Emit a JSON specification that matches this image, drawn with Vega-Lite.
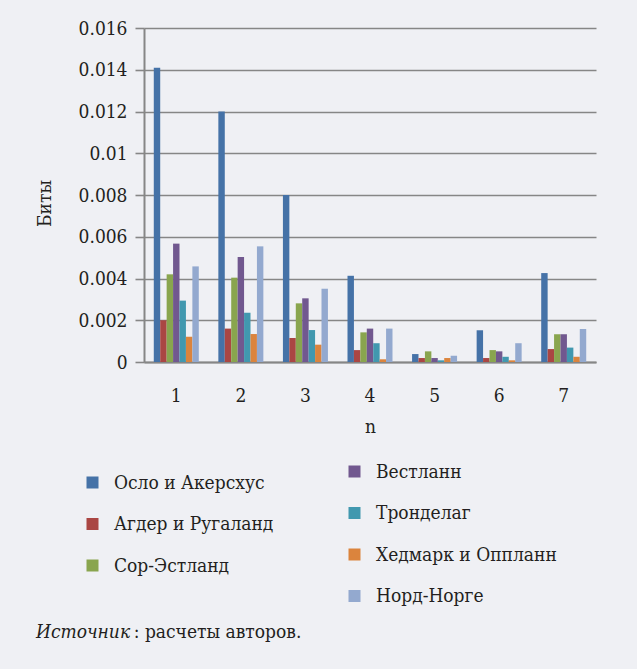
{
  "$schema": "https://vega.github.io/schema/vega-lite/v6.json",
  "width": 452,
  "height": 334,
  "autosize": {"type": "none"},
  "padding": {"left": 144, "top": 28, "right": 41, "bottom": 307},
  "background": "#eff0f4",
  "config": {
    "font": "DejaVu Serif Condensed",
    "view": {"stroke": null},
    "axis": {
      "labelFont": "DejaVu Serif Condensed",
      "titleFont": "DejaVu Serif Condensed",
      "labelFontSize": 19,
      "titleFontSize": 19,
      "titleFontWeight": "normal",
      "labelColor": "#231f20",
      "titleColor": "#231f20",
      "domainColor": "#868686",
      "domainWidth": 2,
      "gridColor": "#868686",
      "gridWidth": 1.6,
      "gridOpacity": 1,
      "tickColor": "#868686",
      "tickWidth": 1.6
    },
    "legend": {
      "labelFont": "DejaVu Serif Condensed",
      "labelFontSize": 19,
      "labelColor": "#231f20",
      "labelLimit": 400,
      "symbolType": "square",
      "symbolSize": 144,
      "symbolStrokeWidth": 0,
      "labelOffset": 12,
      "rowPadding": 21.5,
      "padding": 0,
      "orient": "none",
      "title": null
    }
  },
  "title": {
    "text": "Источник",
    "subtitle": "\u200b\u00a0\u00a0\u00a0\u00a0\u00a0\u00a0\u00a0\u00a0\u00a0\u00a0\u00a0\u00a0\u00a0\u00a0\u00a0\u00a0\u00a0\u00a0: расчеты авторов.",
    "orient": "bottom",
    "anchor": "start",
    "frame": "group",
    "dx": -108,
    "offset": 17,
    "font": "DejaVu Serif Condensed",
    "fontSize": 19,
    "fontStyle": "italic",
    "fontWeight": "normal",
    "color": "#231f20",
    "subtitleFont": "DejaVu Serif Condensed",
    "subtitleFontSize": 19,
    "subtitleColor": "#231f20",
    "subtitlePadding": -19
  },
  "data": {
    "values": [
      {"n": "1", "region": "Осло и Акерсхус", "value": 0.0141},
      {"n": "1", "region": "Агдер и Ругаланд", "value": 0.0020},
      {"n": "1", "region": "Сор-Эстланд", "value": 0.0042},
      {"n": "1", "region": "Вестланн", "value": 0.00567},
      {"n": "1", "region": "Тронделаг", "value": 0.00294},
      {"n": "1", "region": "Хедмарк и Оппланн", "value": 0.00121},
      {"n": "1", "region": "Норд-Норге", "value": 0.00458},
      {"n": "2", "region": "Осло и Акерсхус", "value": 0.0120},
      {"n": "2", "region": "Агдер и Ругаланд", "value": 0.0016},
      {"n": "2", "region": "Сор-Эстланд", "value": 0.00404},
      {"n": "2", "region": "Вестланн", "value": 0.00503},
      {"n": "2", "region": "Тронделаг", "value": 0.00236},
      {"n": "2", "region": "Хедмарк и Оппланн", "value": 0.00134},
      {"n": "2", "region": "Норд-Норге", "value": 0.00554},
      {"n": "3", "region": "Осло и Акерсхус", "value": 0.0080},
      {"n": "3", "region": "Агдер и Ругаланд", "value": 0.00115},
      {"n": "3", "region": "Сор-Эстланд", "value": 0.00281},
      {"n": "3", "region": "Вестланн", "value": 0.00305},
      {"n": "3", "region": "Тронделаг", "value": 0.00153},
      {"n": "3", "region": "Хедмарк и Оппланн", "value": 0.00083},
      {"n": "3", "region": "Норд-Норге", "value": 0.00351},
      {"n": "4", "region": "Осло и Акерсхус", "value": 0.00413},
      {"n": "4", "region": "Агдер и Ругаланд", "value": 0.00057},
      {"n": "4", "region": "Сор-Эстланд", "value": 0.00142},
      {"n": "4", "region": "Вестланн", "value": 0.0016},
      {"n": "4", "region": "Тронделаг", "value": 0.0009},
      {"n": "4", "region": "Хедмарк и Оппланн", "value": 0.00013},
      {"n": "4", "region": "Норд-Норге", "value": 0.0016},
      {"n": "5", "region": "Осло и Акерсхус", "value": 0.00038},
      {"n": "5", "region": "Агдер и Ругаланд", "value": 0.00019},
      {"n": "5", "region": "Сор-Эстланд", "value": 0.00051},
      {"n": "5", "region": "Вестланн", "value": 0.00019},
      {"n": "5", "region": "Тронделаг", "value": 0.00008},
      {"n": "5", "region": "Хедмарк и Оппланн", "value": 0.00019},
      {"n": "5", "region": "Норд-Норге", "value": 0.0003},
      {"n": "6", "region": "Осло и Акерсхус", "value": 0.00152},
      {"n": "6", "region": "Агдер и Ругаланд", "value": 0.00019},
      {"n": "6", "region": "Сор-Эстланд", "value": 0.00057},
      {"n": "6", "region": "Вестланн", "value": 0.00051},
      {"n": "6", "region": "Тронделаг", "value": 0.00025},
      {"n": "6", "region": "Хедмарк и Оппланн", "value": 0.00008},
      {"n": "6", "region": "Норд-Норге", "value": 0.0009},
      {"n": "7", "region": "Осло и Акерсхус", "value": 0.00426},
      {"n": "7", "region": "Агдер и Ругаланд", "value": 0.00062},
      {"n": "7", "region": "Сор-Эстланд", "value": 0.00133},
      {"n": "7", "region": "Вестланн", "value": 0.00133},
      {"n": "7", "region": "Тронделаг", "value": 0.00069},
      {"n": "7", "region": "Хедмарк и Оппланн", "value": 0.00025},
      {"n": "7", "region": "Норд-Норге", "value": 0.00158}
    ]
  },
  "encoding": {
    "x": {
      "field": "n",
      "type": "nominal",
      "scale": {"paddingInner": 0.303, "paddingOuter": 0.1515},
      "axis": {
        "title": "n",
        "labelAngle": 0,
        "ticks": false,
        "grid": false,
        "labelPadding": 24,
        "titlePadding": 12
      }
    },
    "xOffset": {
      "field": "region",
      "type": "nominal",
      "scale": {
        "domain": ["Осло и Акерсхус", "Агдер и Ругаланд", "Сор-Эстланд", "Вестланн", "Тронделаг", "Хедмарк и Оппланн", "Норд-Норге"],
        "paddingInner": 0,
        "paddingOuter": 0
      }
    },
    "y": {
      "field": "value",
      "type": "quantitative",
      "scale": {"domain": [0, 0.016], "nice": false},
      "axis": {
        "title": "Биты",
        "values": [0, 0.002, 0.004, 0.006, 0.008, 0.01, 0.012, 0.014, 0.016],
        "format": ".3~f",
        "grid": true,
        "tickSize": 9,
        "labelPadding": 8,
        "titlePadding": 24,
        "titleY": 175
      }
    }
  },
  "layer": [
    {
      "transform": [{"filter": {"field": "region", "oneOf": ["Осло и Акерсхус", "Агдер и Ругаланд", "Сор-Эстланд"]}}],
      "mark": {"type": "bar"},
      "encoding": {
        "color": {
          "field": "region",
          "type": "nominal",
          "scale": {
            "domain": ["Осло и Акерсхус", "Агдер и Ругаланд", "Сор-Эстланд"],
            "range": ["#4572A7", "#AA4643", "#89A54E"]
          },
          "legend": {"orient": "none", "legendX": -61, "legendY": 445}
        }
      }
    },
    {
      "transform": [{"filter": {"field": "region", "oneOf": ["Вестланн", "Тронделаг", "Хедмарк и Оппланн", "Норд-Норге"]}}],
      "mark": {"type": "bar"},
      "encoding": {
        "color": {
          "field": "region",
          "type": "nominal",
          "scale": {
            "domain": ["Вестланн", "Тронделаг", "Хедмарк и Оппланн", "Норд-Норге"],
            "range": ["#71588F", "#4198AF", "#DB843D", "#93A9CF"]
          },
          "legend": {"orient": "none", "legendX": 201, "legendY": 434}
        }
      }
    }
  ],
  "resolve": {"scale": {"color": "independent"}}
}
